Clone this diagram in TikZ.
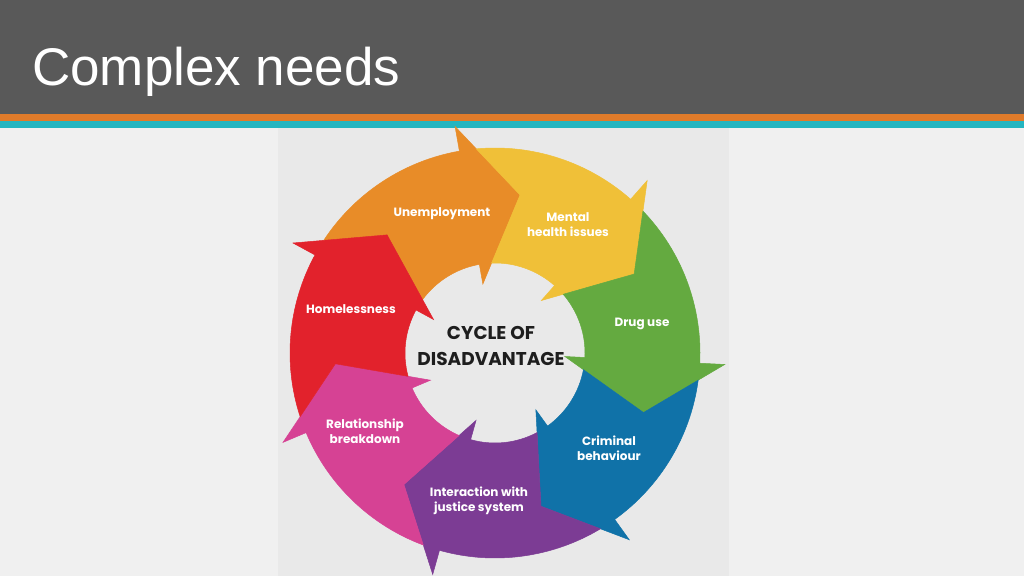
\documentclass[tikz,border=0pt]{standalone}
\usepackage{fontspec}
\setmainfont{Liberation Sans}
\newfontfamily\popfont{Poppins}
\definecolor{hdr}{HTML}{595959}
\definecolor{lineor}{HTML}{E07B2A}
\definecolor{lineteal}{HTML}{24B5C0}
\definecolor{slidebg}{HTML}{F0F0F0}
\definecolor{panelbg}{HTML}{E9E9E9}
\definecolor{cOrange}{HTML}{E88C28}
\definecolor{cYellow}{HTML}{F0C038}
\definecolor{cGreen}{HTML}{64AA40}
\definecolor{cBlue}{HTML}{1072A8}
\definecolor{cPurple}{HTML}{7C3C94}
\definecolor{cPink}{HTML}{D64294}
\definecolor{cRed}{HTML}{E2222C}
\definecolor{darktext}{HTML}{1E1E1E}
\tikzset{
  seglabel/.style={text=white, align=center, inner sep=0pt, font={\popfont\bfseries\fontsize{12}{15}\selectfont}},
  centrelabel/.style={text=darktext, align=center, inner sep=0pt, font={\popfont\bfseries\fontsize{18.5}{26}\selectfont}},
  segment/.style={fill=#1, draw=#1, line width=0.5pt, line join=miter},
}
\begin{document}
\begin{tikzpicture}[x=1pt,y=1pt]
\useasboundingbox (0,0) rectangle (1024,576);
\fill[slidebg] (0,0) rectangle (1024,576);
\fill[hdr] (0,462) rectangle (1024,576);
\fill[lineor] (0,455) rectangle (1024,462);
\fill[lineteal] (0,448) rectangle (1024,455);
\fill[panelbg] (278,0) rectangle (729,448);
\node[anchor=base west, text=white, inner sep=0pt, font=\fontsize{53}{60}\selectfont] (title) at (32,490) {Complex needs};
\begin{scope}[shift={(495,223)}]
  \foreach \k/\col in {0/cOrange,1/cYellow,2/cGreen,3/cBlue,4/cPurple,5/cPink,6/cRed} {
    \pgfmathsetmacro{\ta}{100-51.4286*\k}
    \pgfmathsetmacro{\tb}{\ta+51.4286}
    \pgfmathsetmacro{\tpt}{\tb-19}
    \pgfmathsetmacro{\xo}{\tb-4.76}
    \pgfmathsetmacro{\xi}{\tb-7.84}
    \pgfmathsetmacro{\tt}{\ta-19}
    \path[segment=\col] (\tpt:160) -- (\xo:205) arc[start angle=\xo, end angle=\ta, radius=205]
      -- (\ta:230) -- (\tt:160) -- (\ta:70) -- (\ta:90)
      arc[start angle=\ta, end angle=\xi, radius=90] -- cycle;
  }
\end{scope}
\node[seglabel] (unemp) at (442,362) {Unemployment};
\node[seglabel] (mental) at (568,351.5) {Mental\\health issues};
\node[seglabel] (drug) at (642,252) {Drug use};
\node[seglabel] (crim) at (609,127.5) {Criminal\\behaviour};
\node[seglabel] (inter) at (479,75) {Interaction with\\justice system};
\node[seglabel] (rel) at (365,145) {Relationship\\breakdown};
\node[seglabel] (home) at (351,267) {Homelessness};
\node[centrelabel] (cycle) at (491,230) {CYCLE OF\\DISADVANTAGE};
\end{tikzpicture}
\end{document}
